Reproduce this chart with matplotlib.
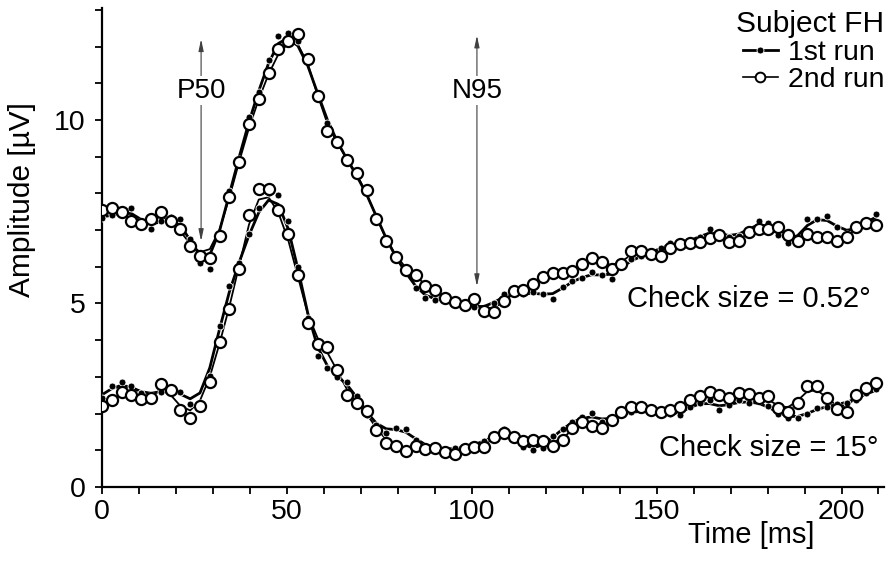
import numpy as np
import matplotlib
matplotlib.use("Agg")
import matplotlib.pyplot as plt
from matplotlib.lines import Line2D

plt.rcParams['font.family'] = ['Liberation Sans', 'DejaVu Sans']

# sampling grid of the recordings (ms)
sample_ms = 2.65
n_samples = 80

# check size 0.52 deg (upper trace)
upper_run1 = [7.34, 7.40, 7.45, 7.60, 7.25, 7.02, 7.25, 7.35, 7.30, 6.75,
              6.11, 5.95, 6.85, 8.07, 8.93, 10.07, 10.77, 11.62, 12.29, 12.38,
              12.14, 11.60, 10.70, 9.91, 9.40, 8.90, 8.50, 8.05, 7.35, 6.75,
              6.20, 5.85, 5.43, 5.14, 5.09, 5.15, 5.05, 4.95, 4.91, 4.85,
              5.00, 5.25, 5.25, 5.25, 5.31, 5.27, 5.13, 5.46, 5.61, 5.70,
              5.86, 5.77, 5.67, 6.00, 6.20, 6.29, 6.35, 6.52, 6.64, 6.60,
              6.70, 6.80, 7.02, 6.90, 6.80, 6.85, 7.00, 7.25, 7.20, 6.86,
              6.64, 6.68, 7.30, 7.30, 7.37, 7.07, 6.90, 7.00, 7.20, 7.43]
upper_run2 = [7.55, 7.60, 7.50, 7.24, 7.16, 7.30, 7.48, 7.25, 7.04, 6.56,
              6.29, 6.25, 6.84, 7.90, 8.85, 9.89, 10.57, 11.28, 11.94, 12.14,
              12.35, 11.67, 10.64, 9.71, 9.39, 8.92, 8.55, 8.10, 7.30, 6.70,
              6.27, 5.91, 5.77, 5.47, 5.38, 5.16, 5.04, 4.95, 5.11, 4.79,
              4.76, 5.06, 5.34, 5.38, 5.52, 5.72, 5.84, 5.84, 5.88, 6.07,
              6.25, 6.14, 5.93, 6.07, 6.43, 6.43, 6.34, 6.29, 6.52, 6.61,
              6.66, 6.68, 6.79, 6.86, 6.68, 6.70, 6.95, 7.02, 7.02, 7.07,
              6.86, 6.70, 6.89, 6.80, 6.80, 6.70, 6.80, 7.07, 7.20, 7.13]

# check size 15 deg (lower trace)
lower_run1 = [2.42, 2.74, 2.86, 2.74, 2.55, 2.50, 2.60, 2.70, 2.59, 2.27,
              2.30, 3.03, 4.38, 5.47, 6.09, 6.89, 7.60, 8.00, 7.95, 7.25,
              5.98, 4.60, 3.58, 3.24, 3.00, 2.86, 2.49, 1.97, 1.70, 1.47,
              1.62, 1.58, 1.27, 1.13, 1.05, 1.00, 1.06, 1.05, 1.15, 1.25,
              1.35, 1.58, 1.30, 1.10, 1.01, 1.05, 1.39, 1.58, 1.78, 1.90,
              2.01, 1.76, 1.85, 1.95, 2.05, 2.10, 2.05, 1.95, 1.98, 1.97,
              2.19, 2.30, 2.36, 2.10, 2.24, 2.36, 2.30, 2.33, 2.20, 2.00,
              1.88, 1.88, 1.99, 2.15, 2.19, 2.25, 2.29, 2.38, 2.56, 2.67]
lower_run2 = [2.21, 2.38, 2.60, 2.50, 2.40, 2.42, 2.81, 2.63, 2.10, 1.89,
              2.21, 2.85, 3.94, 4.86, 5.93, 7.41, 8.11, 8.11, 7.54, 6.90,
              5.77, 4.47, 3.90, 3.81, 3.20, 2.51, 2.30, 2.08, 1.56, 1.19,
              1.13, 0.98, 1.13, 1.03, 1.06, 0.94, 0.89, 1.03, 1.08, 1.10,
              1.36, 1.47, 1.35, 1.24, 1.28, 1.24, 1.12, 1.28, 1.60, 1.77,
              1.65, 1.62, 1.83, 2.04, 2.19, 2.19, 2.10, 2.04, 2.10, 2.19,
              2.36, 2.49, 2.60, 2.51, 2.42, 2.56, 2.54, 2.42, 2.49, 2.15,
              2.03, 2.30, 2.76, 2.76, 2.42, 2.12, 2.03, 2.51, 2.70, 2.83]

# peak markers: (label, latency ms, arrow bottom, arrow top)
peaks = [("P50", 26.8, 6.7, 12.2), ("N95", 101.4, 5.47, 12.3)]

t = np.arange(n_samples) * sample_ms


def smooth(y, sigma=0.9):
    # gaussian smoothing used for the fitted curves
    y = np.asarray(y, dtype=float)
    half = int(3 * sigma) + 1
    k = np.exp(-0.5 * (np.arange(-half, half + 1) / sigma) ** 2)
    k /= k.sum()
    padded = np.pad(y, half, mode='edge')
    return np.convolve(padded, k, mode='valid')


fig = plt.figure(figsize=(8.9, 5.63), dpi=100)
ax = fig.add_axes([0.1146, 0.135, 0.8787, 0.8508])

for run1, run2 in [(upper_run1, upper_run2), (lower_run1, lower_run2)]:
    ax.plot(t, smooth(run1), color='black', lw=2.0, zorder=2)
    ax.plot(t, smooth(run2), color='black', lw=1.3, zorder=2)
    ax.plot(t, run1, ls='none', marker='o', ms=5, mfc='black', mec='white',
            mew=0.6, zorder=3)
    ax.plot(t, run2, ls='none', marker='o', ms=8, mfc='white', mec='black',
            mew=1.6, zorder=4)

for label, x, y0, y1 in peaks:
    ax.annotate('', xy=(x, y1), xytext=(x, y0),
                arrowprops=dict(arrowstyle='<|-|>,head_length=0.7,head_width=0.15',
                                color='0.25', lw=0.8, shrinkA=0, shrinkB=0),
                zorder=1)
    ax.text(x, 10.8, label, ha='center', va='center', fontsize=20,
            bbox=dict(facecolor='white', edgecolor='none', pad=1), zorder=5)

ax.text(207.8, 5.11, 'Check size = 0.52°', ha='right', va='center', fontsize=21)
ax.text(210.0, 1.07, 'Check size = 15°', ha='right', va='center', fontsize=21)

ax.set_xlim(0, 211.5)
ax.set_ylim(0, 13.05)
ax.set_xticks([0, 50, 100, 150, 200])
ax.set_xticks(np.arange(0, 211, 10), minor=True)
ax.set_yticks([0, 5, 10])
ax.set_yticks(np.arange(0, 14, 1), minor=True)
ax.tick_params(which='both', direction='out', length=5, width=1.3,
               labelsize=20.5)
ax.tick_params(axis='y', pad=7)
ax.tick_params(axis='x', pad=4)

for side in ['top', 'right']:
    ax.spines[side].set_visible(False)
for side in ['left', 'bottom']:
    ax.spines[side].set_linewidth(1.6)

ax.set_xlabel('Time [ms]', fontsize=21)
ax.xaxis.set_label_coords(0.83, -0.072)
ax.set_ylabel('Amplitude [µV]', fontsize=21.5)
ax.yaxis.set_label_coords(-0.085, 0.6)

handles = [
    Line2D([], [], color='black', lw=2.0, marker='o', ms=5, mfc='black',
           mec='white', mew=0.6, label='1st run'),
    Line2D([], [], color='black', lw=1.2, marker='o', ms=7, mfc='white',
           mec='black', mew=1.4, label='2nd run'),
]
ax.legend(handles=handles, loc='upper right', bbox_to_anchor=(1.0, 0.995),
          frameon=False, title='Subject FH', alignment='right', fontsize=20.5,
          title_fontsize=21.5, handlelength=1.2, handletextpad=0.35,
          labelspacing=0.05, borderaxespad=0, borderpad=0)

fig.savefig('out.png', dpi=100)
